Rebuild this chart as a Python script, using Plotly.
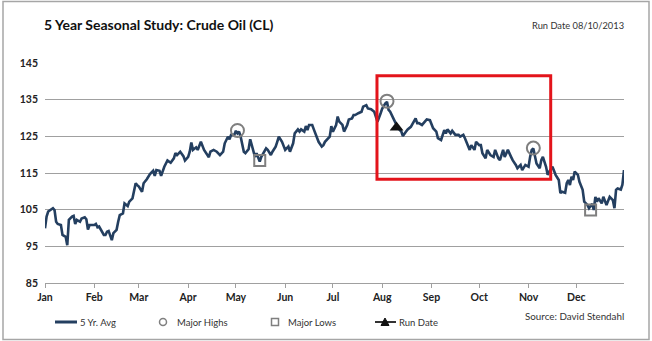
import pandas as pd
import plotly.graph_objects as go

# ---- data (day offset from Jan 1 2013, 5-yr average value) ----
avg_days = [0, 1, 2, 5, 6, 7, 8, 10, 11, 13, 14, 15, 17, 18, 19, 20, 22, 23, 25, 26, 27, 28, 29, 31, 32, 33, 34,
            36, 37, 38, 39, 40, 41, 42, 43, 45, 46, 47, 49, 50, 52, 53, 55, 57, 58, 59, 61, 62, 64, 66, 68, 69, 70,
            72, 73, 75, 77, 79, 81, 82, 83, 85, 87, 88, 90, 91, 92, 93, 95, 96, 98, 99, 100, 103, 104, 106, 108,
            110, 112, 113, 115, 116, 117, 119, 120, 121, 122, 123, 124, 125, 126, 128, 129, 130, 131, 132, 133,
            135, 136, 138, 139, 140, 142, 143, 145, 146, 147, 149, 150, 151, 153, 154, 156, 157, 159, 160, 161,
            163, 164, 165, 166, 168, 169, 170, 171, 172, 174, 175, 176, 178, 179, 180, 181, 183, 184, 185, 187,
            188, 190, 191, 193, 194, 195, 197, 199, 200, 202, 203, 205, 207, 208, 209, 211, 212, 214, 215, 216,
            217, 219, 220, 222, 224, 225, 227, 228, 230, 231, 233, 234, 235, 237, 238, 240, 242, 243, 244, 246,
            247, 249, 251, 252, 253, 255, 256, 258, 260, 261, 263, 264, 265, 267, 268, 270, 271, 273, 274, 275,
            277, 278, 280, 282, 283, 285, 286, 288, 289, 291, 293, 294, 296, 297, 299, 300, 302, 304, 305, 306,
            307, 308, 309, 311, 312, 313, 315, 316, 317, 319, 320, 321, 323, 324, 325, 327, 328, 329, 330, 331,
            332, 333, 335, 336, 338, 339, 341, 342, 344, 345, 346, 347, 348, 350, 351, 352, 353, 355, 356, 357,
            358, 359, 360, 362, 363, 364]
avg_vals = [99.9, 103.1, 104.5, 105.4, 104.9, 101.7, 101.1, 100.8, 98.1, 97.6, 95.3, 102.2, 103.1, 103.3, 101.1,
            102.2, 101.7, 102.6, 102.9, 102.4, 99.6, 100.8, 100.8, 100.8, 101.1, 100.2, 100.4, 99.0, 98.1, 98.1,
            99.0, 99.2, 98.1, 96.7, 98.6, 99.5, 101.7, 103.5, 104.0, 106.7, 106.0, 107.2, 108.1, 112.2, 111.7,
            111.3, 109.9, 112.2, 113.3, 114.7, 115.6, 114.2, 115.8, 115.6, 114.2, 116.7, 118.4, 117.8, 119.0,
            120.4, 119.9, 120.8, 119.6, 118.4, 119.4, 120.8, 123.3, 121.3, 122.0, 121.3, 123.5, 122.6, 121.3,
            119.3, 120.8, 121.3, 120.8, 119.9, 120.8, 123.1, 124.9, 124.2, 125.4, 125.4, 126.5, 125.8, 126.3,
            124.9, 122.6, 120.8, 120.4, 121.5, 124.2, 122.6, 120.8, 119.4, 120.4, 118.1, 119.4, 120.8, 121.7,
            121.3, 119.9, 120.8, 122.2, 123.5, 124.9, 123.5, 122.2, 121.3, 122.2, 120.8, 123.1, 125.8, 126.9,
            126.3, 126.9, 126.3, 127.8, 126.7, 128.1, 128.1, 126.9, 125.8, 124.5, 123.5, 122.2, 122.6, 123.5,
            124.5, 124.9, 127.8, 126.3, 128.1, 130.4, 129.0, 128.1, 126.3, 128.1, 129.6, 129.9, 130.8, 130.8,
            131.3, 131.7, 133.1, 133.5, 132.6, 132.4, 131.7, 130.4, 129.0, 131.3, 132.6, 134.0, 134.4, 132.2,
            131.7, 129.9, 129.0, 127.2, 126.3, 125.1, 126.3, 126.9, 127.6, 128.4, 129.9, 128.6, 128.6, 128.1,
            128.6, 129.6, 129.4, 128.1, 127.2, 126.3, 124.5, 124.0, 126.7, 125.8, 126.9, 125.8, 126.5, 125.4,
            125.4, 124.9, 125.4, 124.5, 123.5, 121.3, 122.6, 121.3, 123.5, 122.6, 122.6, 120.4, 119.0, 121.3,
            119.9, 119.4, 121.3, 119.0, 118.5, 121.3, 119.4, 121.3, 119.4, 118.5, 117.2, 116.3, 117.2, 115.8,
            117.2, 116.7, 119.4, 121.3, 121.7, 119.4, 117.6, 116.3, 118.5, 119.4, 116.7, 114.5, 115.4, 116.7,
            115.4, 114.5, 113.1, 109.5, 109.9, 109.6, 112.2, 113.1, 111.7, 114.0, 113.1, 115.4, 114.5, 112.6,
            110.4, 107.2, 106.3, 105.4, 106.6, 104.9, 108.5, 107.2, 108.1, 106.7, 108.5, 107.6, 106.3, 108.5,
            108.1, 107.6, 105.4, 110.4, 110.8, 110.5, 111.8, 115.8]

high_days = [121, 215, 307]
high_vals = [126.6, 134.6, 121.8]
low_days = [135, 343]
low_vals = [118.4, 104.9]
run_days = [221]
run_vals = [127.4]

y_ticks = [85, 95, 105, 115, 125, 135, 145]
title_text = "5 Year Seasonal Study: Crude Oil (CL)"
run_text = "Run Date 08/10/2013"
source_text = "Source: David Stendahl"
legend_labels = ["5 Yr. Avg", "Major Highs", "Major Lows", "Run Date"]

start = pd.Timestamp("2013-01-01")
def to_dates(d):
    return start + pd.to_timedelta(d, unit="D")

NAVY = "#243f60"
GRAY = "#7f7f7f"
GRID = "#a0a0a0"
FONT = "Lato"

fig = go.Figure()
fig.add_trace(go.Scatter(x=to_dates(avg_days), y=avg_vals, mode="lines",
                         line=dict(color=NAVY, width=2.6), showlegend=False))
fig.add_trace(go.Scatter(x=to_dates(high_days), y=high_vals, mode="markers",
                         marker=dict(symbol="circle-open", size=13, color=GRAY, line=dict(width=2)),
                         showlegend=False))
fig.add_trace(go.Scatter(x=to_dates(low_days), y=low_vals, mode="markers",
                         marker=dict(symbol="square-open", size=11, color=GRAY, line=dict(width=2)),
                         showlegend=False))
fig.add_trace(go.Scatter(x=to_dates(run_days), y=run_vals, mode="markers",
                         marker=dict(symbol="triangle-up", size=12, color="#111111"),
                         showlegend=False))

L, R, T, B = 45, 624, 63, 283
def px(x):
    return (x - L) / (R - L)
def py(y):
    return (B - y) / (B - T)

shapes = []
# outer border
shapes.append(dict(type="rect", xref="paper", yref="paper", x0=px(3), x1=px(649), y0=py(339.5), y1=py(1.5),
                   line=dict(color="#a6a6a6", width=1.5), layer="below"))
# red highlight box
shapes.append(dict(type="rect", xref="x", yref="y", x0="2013-07-28 17:00", x1="2013-11-14 22:00",
                   y0=113.3, y1=141.5, line=dict(color="#e3141b", width=3)))

# manual legend
LY = 322
shapes.append(dict(type="line", xref="paper", yref="paper", x0=px(55), x1=px(77), y0=py(LY), y1=py(LY),
                   line=dict(color=NAVY, width=3)))
shapes.append(dict(type="circle", xref="paper", yref="paper", x0=px(159.5), x1=px(166.5), y0=py(325.5), y1=py(318.5),
                   line=dict(color=GRAY, width=1.5)))
shapes.append(dict(type="rect", xref="paper", yref="paper", x0=px(271.5), x1=px(278.5), y0=py(325.5), y1=py(318.5),
                   line=dict(color=GRAY, width=1.5)))
shapes.append(dict(type="line", xref="paper", yref="paper", x0=px(375), x1=px(396), y0=py(LY), y1=py(LY),
                   line=dict(color="#333333", width=2)))
shapes.append(dict(type="path", xref="paper", yref="paper",
                   path="M %f,%f L %f,%f L %f,%f Z" % (px(381), py(325.5), px(389), py(325.5), px(385), py(318)),
                   fillcolor="#111111", line=dict(color="#111111", width=1)))

ann = []
leg_x = [78, 175, 286, 397]
for lx, lab in zip(leg_x, legend_labels):
    ann.append(dict(text=lab, xref="paper", yref="paper", x=px(lx), y=py(LY), xanchor="left", yanchor="middle",
                    showarrow=False, font=dict(family=FONT, size=9.5, color="#333333")))
ann.append(dict(text=title_text, xref="paper", yref="paper", x=px(42), y=py(24), xanchor="left", yanchor="middle",
                showarrow=False, font=dict(family=FONT, size=14, color="#111111", weight="bold")))
ann.append(dict(text=run_text, xref="paper", yref="paper", x=px(626), y=py(26), xanchor="right", yanchor="middle",
                showarrow=False, font=dict(family=FONT, size=9.3, color="#333333")))
ann.append(dict(text=source_text, xref="paper", yref="paper", x=px(626), y=py(316), xanchor="right", yanchor="middle",
                showarrow=False, font=dict(family=FONT, size=9.8, color="#333333")))

fig.update_layout(
    width=652, height=341,
    margin=dict(l=L, r=652 - R, t=T, b=341 - B, pad=0),
    paper_bgcolor="white", plot_bgcolor="white",
    shapes=shapes, annotations=ann,
    xaxis=dict(type="date", range=["2013-01-01", "2013-12-31"], dtick="M1", tick0="2013-01-01",
               tickformat="%b", showgrid=False, zeroline=False, showline=True, linecolor=GRID, linewidth=1.3,
               ticks="outside", ticklen=4, tickcolor=GRID, tickwidth=1,
               tickfont=dict(family=FONT, size=10.5, color="#222222", weight="bold"), fixedrange=True),
    yaxis=dict(range=[85, 145], tickvals=y_ticks, showgrid=True, gridcolor=GRID, gridwidth=1.3,
               zeroline=False, showline=False, ticks="", ticklabelstandoff=6,
               tickfont=dict(family=FONT, size=10.5, color="#222222", weight="bold"), fixedrange=True),
    showlegend=False,
)

fig.write_html("out.html")
